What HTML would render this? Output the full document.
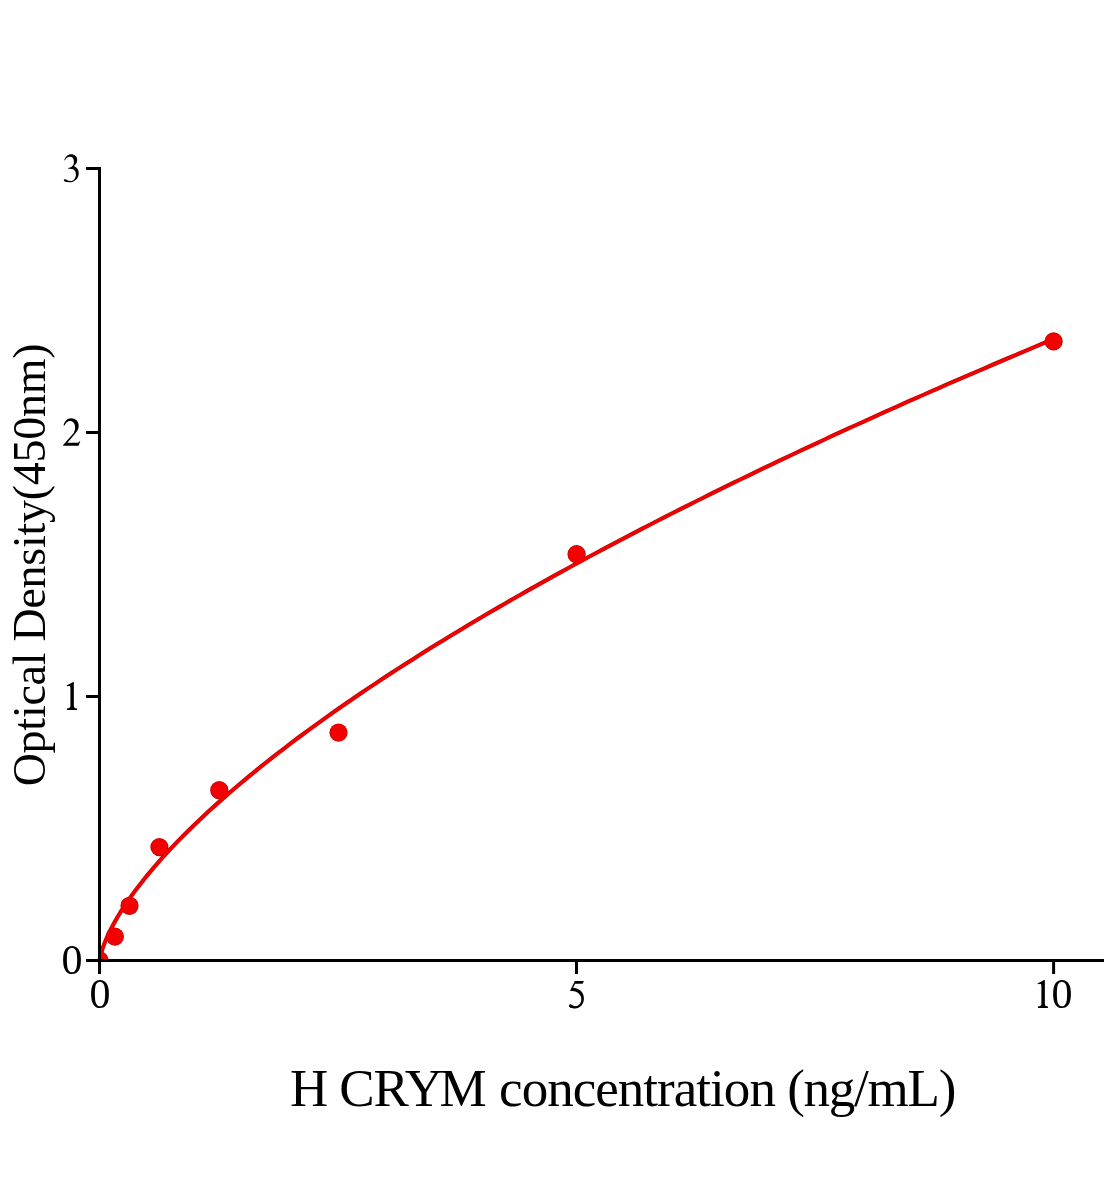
<!DOCTYPE html>
<html><head><meta charset="utf-8"><style>
html,body{margin:0;padding:0;background:#fff;}
body{width:1104px;height:1200px;overflow:hidden;}
svg{display:block;will-change:transform;}
text{font-family:"Liberation Serif",serif;fill:#000;}
</style></head><body>
<svg width="1104" height="1200" viewBox="0 0 1104 1200">
<rect width="1104" height="1200" fill="#fff"/>
<defs><path id="g1" d="M6.85 -27.9 L6.85 -3.9 C6.85 -2.2 7.7 -1.55 9.95 -1.35 L9.95 0 L0 0 L0 -1.35 C2.2 -1.55 3.4 -2.2 3.4 -3.9 L3.4 -21.9 C3.4 -23.2 3.0 -23.8 2.1 -23.8 C1.3 -23.8 0.5 -23.6 -0.2 -23.8 L-0.45 -24.4 L6.2 -27.9 Z"/><clipPath id="pa"><rect x="101" y="100" width="1003" height="859"/></clipPath></defs>
<g clip-path="url(#pa)">
<g fill="#c00000">
<circle cx="99.50" cy="960.50" r="9.1"/>
<circle cx="114.90" cy="936.60" r="9.1"/>
<circle cx="129.50" cy="905.80" r="9.1"/>
<circle cx="159.40" cy="847.10" r="9.1"/>
<circle cx="219.30" cy="790.20" r="9.1"/>
<circle cx="338.50" cy="732.60" r="9.1"/>
<circle cx="576.60" cy="554.20" r="9.1"/>
<circle cx="1053.60" cy="341.40" r="9.1"/>
</g>
<path d="M99.50,962.50 L99.64,960.79 L99.77,959.78 L99.91,958.93 L100.05,958.17 L100.18,957.47 L100.32,956.81 L100.45,956.19 L100.59,955.60 L100.73,955.03 L100.86,954.48 L101.00,953.95 L101.14,953.44 L101.27,952.93 L101.41,952.45 L102.18,949.85 L102.96,947.50 L103.74,945.32 L104.51,943.26 L105.29,941.31 L106.07,939.44 L106.84,937.64 L107.62,935.91 L108.39,934.23 L109.17,932.59 L109.95,931.00 L110.72,929.45 L111.50,927.94 L112.28,926.45 L113.05,925.00 L113.83,923.57 L114.60,922.17 L115.38,920.79 L116.16,919.43 L116.93,918.10 L117.71,916.78 L118.48,915.49 L119.26,914.21 L120.04,912.94 L120.81,911.70 L121.59,910.47 L122.37,909.25 L123.14,908.04 L123.92,906.85 L124.69,905.67 L125.47,904.51 L126.25,903.35 L127.02,902.21 L127.80,901.08 L128.58,899.95 L129.35,898.84 L130.13,897.74 L130.90,896.65 L131.68,895.56 L132.46,894.49 L133.23,893.42 L134.01,892.36 L134.79,891.31 L135.56,890.26 L136.34,889.23 L137.11,888.20 L137.89,887.18 L138.67,886.16 L139.44,885.16 L140.22,884.15 L141.00,883.16 L141.77,882.17 L142.55,881.19 L143.32,880.21 L144.10,879.24 L144.88,878.28 L145.65,877.32 L146.43,876.36 L147.20,875.41 L154.82,866.36 L162.44,857.72 L170.06,849.43 L177.67,841.44 L185.29,833.71 L192.91,826.22 L200.52,818.93 L208.14,811.82 L215.76,804.89 L223.37,798.11 L230.99,791.47 L238.61,784.97 L246.22,778.59 L253.84,772.32 L261.46,766.16 L269.07,760.10 L276.69,754.14 L284.31,748.26 L291.92,742.47 L299.54,736.76 L307.16,731.13 L314.77,725.57 L322.39,720.07 L330.01,714.65 L337.62,709.28 L345.24,703.98 L352.86,698.74 L360.47,693.55 L368.09,688.42 L375.71,683.34 L383.32,678.31 L390.94,673.32 L398.56,668.39 L406.17,663.50 L413.79,658.65 L421.41,653.84 L429.03,649.08 L436.64,644.36 L444.26,639.67 L451.88,635.02 L459.49,630.41 L467.11,625.83 L474.73,621.29 L482.34,616.79 L489.96,612.31 L497.58,607.87 L505.19,603.46 L512.81,599.07 L520.43,594.72 L528.04,590.40 L535.66,586.11 L543.28,581.84 L550.89,577.60 L558.51,573.39 L566.13,569.20 L573.74,565.04 L581.36,560.90 L588.98,556.79 L596.59,552.70 L604.21,548.63 L611.83,544.59 L619.44,540.57 L627.06,536.57 L634.68,532.60 L642.29,528.64 L649.91,524.71 L657.53,520.79 L665.14,516.90 L672.76,513.03 L680.38,509.17 L688.00,505.34 L695.61,501.52 L703.23,497.72 L710.85,493.94 L718.46,490.18 L726.08,486.44 L733.70,482.71 L741.31,479.00 L748.93,475.31 L756.55,471.63 L764.16,467.97 L771.78,464.33 L779.40,460.70 L787.01,457.09 L794.63,453.49 L802.25,449.91 L809.86,446.34 L817.48,442.79 L825.10,439.25 L832.71,435.73 L840.33,432.22 L847.95,428.72 L855.56,425.24 L863.18,421.77 L870.80,418.32 L878.41,414.88 L886.03,411.45 L893.65,408.04 L901.26,404.63 L908.88,401.24 L916.50,397.87 L924.11,394.50 L931.73,391.15 L939.35,387.81 L946.97,384.48 L954.58,381.16 L962.20,377.86 L969.82,374.56 L977.43,371.28 L985.05,368.01 L992.67,364.75 L1000.28,361.50 L1007.90,358.26 L1015.52,355.03 L1023.13,351.82 L1030.75,348.61 L1038.37,345.41 L1045.98,342.23 L1053.60,339.05" fill="none" stroke="#c00000" stroke-width="4.1" stroke-linejoin="round"/>
<g fill="#f40000">
<circle cx="99.50" cy="960.50" r="8.3"/>
<circle cx="114.90" cy="936.60" r="8.3"/>
<circle cx="129.50" cy="905.80" r="8.3"/>
<circle cx="159.40" cy="847.10" r="8.3"/>
<circle cx="219.30" cy="790.20" r="8.3"/>
<circle cx="338.50" cy="732.60" r="8.3"/>
<circle cx="576.60" cy="554.20" r="8.3"/>
<circle cx="1053.60" cy="341.40" r="8.3"/>
</g>
<path d="M99.50,962.50 L99.64,960.79 L99.77,959.78 L99.91,958.93 L100.05,958.17 L100.18,957.47 L100.32,956.81 L100.45,956.19 L100.59,955.60 L100.73,955.03 L100.86,954.48 L101.00,953.95 L101.14,953.44 L101.27,952.93 L101.41,952.45 L102.18,949.85 L102.96,947.50 L103.74,945.32 L104.51,943.26 L105.29,941.31 L106.07,939.44 L106.84,937.64 L107.62,935.91 L108.39,934.23 L109.17,932.59 L109.95,931.00 L110.72,929.45 L111.50,927.94 L112.28,926.45 L113.05,925.00 L113.83,923.57 L114.60,922.17 L115.38,920.79 L116.16,919.43 L116.93,918.10 L117.71,916.78 L118.48,915.49 L119.26,914.21 L120.04,912.94 L120.81,911.70 L121.59,910.47 L122.37,909.25 L123.14,908.04 L123.92,906.85 L124.69,905.67 L125.47,904.51 L126.25,903.35 L127.02,902.21 L127.80,901.08 L128.58,899.95 L129.35,898.84 L130.13,897.74 L130.90,896.65 L131.68,895.56 L132.46,894.49 L133.23,893.42 L134.01,892.36 L134.79,891.31 L135.56,890.26 L136.34,889.23 L137.11,888.20 L137.89,887.18 L138.67,886.16 L139.44,885.16 L140.22,884.15 L141.00,883.16 L141.77,882.17 L142.55,881.19 L143.32,880.21 L144.10,879.24 L144.88,878.28 L145.65,877.32 L146.43,876.36 L147.20,875.41 L154.82,866.36 L162.44,857.72 L170.06,849.43 L177.67,841.44 L185.29,833.71 L192.91,826.22 L200.52,818.93 L208.14,811.82 L215.76,804.89 L223.37,798.11 L230.99,791.47 L238.61,784.97 L246.22,778.59 L253.84,772.32 L261.46,766.16 L269.07,760.10 L276.69,754.14 L284.31,748.26 L291.92,742.47 L299.54,736.76 L307.16,731.13 L314.77,725.57 L322.39,720.07 L330.01,714.65 L337.62,709.28 L345.24,703.98 L352.86,698.74 L360.47,693.55 L368.09,688.42 L375.71,683.34 L383.32,678.31 L390.94,673.32 L398.56,668.39 L406.17,663.50 L413.79,658.65 L421.41,653.84 L429.03,649.08 L436.64,644.36 L444.26,639.67 L451.88,635.02 L459.49,630.41 L467.11,625.83 L474.73,621.29 L482.34,616.79 L489.96,612.31 L497.58,607.87 L505.19,603.46 L512.81,599.07 L520.43,594.72 L528.04,590.40 L535.66,586.11 L543.28,581.84 L550.89,577.60 L558.51,573.39 L566.13,569.20 L573.74,565.04 L581.36,560.90 L588.98,556.79 L596.59,552.70 L604.21,548.63 L611.83,544.59 L619.44,540.57 L627.06,536.57 L634.68,532.60 L642.29,528.64 L649.91,524.71 L657.53,520.79 L665.14,516.90 L672.76,513.03 L680.38,509.17 L688.00,505.34 L695.61,501.52 L703.23,497.72 L710.85,493.94 L718.46,490.18 L726.08,486.44 L733.70,482.71 L741.31,479.00 L748.93,475.31 L756.55,471.63 L764.16,467.97 L771.78,464.33 L779.40,460.70 L787.01,457.09 L794.63,453.49 L802.25,449.91 L809.86,446.34 L817.48,442.79 L825.10,439.25 L832.71,435.73 L840.33,432.22 L847.95,428.72 L855.56,425.24 L863.18,421.77 L870.80,418.32 L878.41,414.88 L886.03,411.45 L893.65,408.04 L901.26,404.63 L908.88,401.24 L916.50,397.87 L924.11,394.50 L931.73,391.15 L939.35,387.81 L946.97,384.48 L954.58,381.16 L962.20,377.86 L969.82,374.56 L977.43,371.28 L985.05,368.01 L992.67,364.75 L1000.28,361.50 L1007.90,358.26 L1015.52,355.03 L1023.13,351.82 L1030.75,348.61 L1038.37,345.41 L1045.98,342.23 L1053.60,339.05" fill="none" stroke="#f40000" stroke-width="2.8" stroke-linejoin="round"/>
</g>
<g stroke="#000" stroke-width="3" fill="none">
<path d="M99.5 167 V974"/>
<path d="M86 960.5 H1104"/>
<path d="M86 168.5 H101"/>
<path d="M86 432.5 H101"/>
<path d="M86 696.5 H101"/>
<path d="M576.5 959 V974"/>
<path d="M1053.6 959 V974"/>
</g>
<g font-size="42" text-anchor="end">
<text x="82.6" y="974.4">0</text>
</g>
<g font-size="42" text-anchor="middle">
<text x="99.9" y="1008.2">0</text>
<text x="1062.1" y="1008.3">0</text>
</g>
<use href="#g1" x="67.0" y="709.9"/>
<path d="M64.16 160.25 C65.5 157.0 68.0 154.34 70.9 154.34 C74.6 154.34 77.23 156.6 77.23 160.0 C77.23 162.6 75.8 164.6 73.93 166.03 C76.8 167.3 78.74 169.8 78.74 173.2 C78.74 178.6 74.6 182.26 69.25 182.26 C66.3 182.26 63.75 181.6 63.75 180.3 C63.75 179.6 64.4 179.2 65.1 179.2 C66.6 179.2 67.8 181.0 70.6 181.0 C73.9 181.0 75.86 178.0 75.86 174.2 C75.86 170.9 73.9 168.9 71.0 168.9 C70.0 168.9 69.0 168.9 68.0 168.6 L68.1 168.0 C71.8 167.3 73.93 165.0 73.93 161.9 C73.93 158.6 72.3 156.8 70.1 156.8 C67.8 156.8 65.9 158.3 64.6 160.6 Z"/>
<path d="M63.53 425.47 C64.6 421.0 67.5 418.27 70.87 418.27 C75.5 418.27 78.73 421.4 78.73 425.87 C78.73 429.4 77.0 431.6 74.6 434.2 L67.4 442.67 L77.27 442.67 C78.3 442.67 79.1 442.2 79.8 440.9 L80.3 441.1 L78.6 445.73 L63.0 445.73 L63.0 445.3 L72.4 434.6 C74.4 432.2 75.1 429.8 75.1 427.4 C75.1 423.3 73.0 420.9 70.07 420.9 C67.6 420.9 65.8 422.5 64.5 425.6 Z"/>
<path d="M574.87 981.07 L583.93 981.07 L582.6 983.73 L575.13 983.73 L573.0 987.87 C577.5 988.0 583.93 991.0 583.93 998.3 C583.93 1004.5 579.8 1008.4 575.13 1008.4 C572.0 1008.4 569.0 1007.6 569.0 1005.9 C569.0 1004.9 569.7 1004.3 570.5 1004.3 C571.6 1004.3 572.8 1006.2 575.13 1006.2 C578.6 1006.2 581.3 1003.3 581.3 999.2 C581.3 994.5 577.5 991.3 572.5 990.9 C571.6 990.85 570.8 990.85 570.07 990.7 Z"/>
<use href="#g1" x="1038.0" y="1007.9"/>
<text x="289.9" y="1106" font-size="53" letter-spacing="-1.13">H CRY<tspan dx="-2.3">M</tspan><tspan dx="1.3" letter-spacing="-0.97"> concentration </tspan><tspan letter-spacing="-1.25">(ng/mL)</tspan></text>
<text transform="translate(45,565) rotate(-90)" font-size="46" text-anchor="middle" letter-spacing="-0.26">Optical Density(450nm)</text>
</svg>
</body></html>
